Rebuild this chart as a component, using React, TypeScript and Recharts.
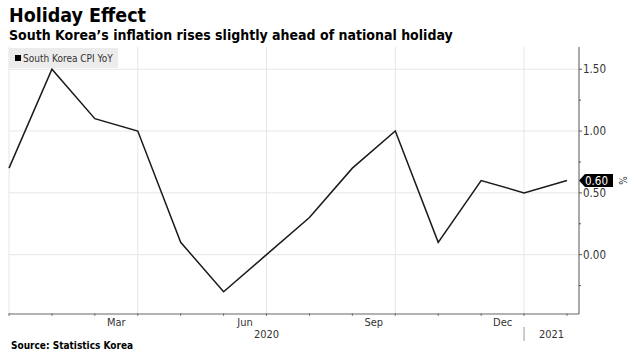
import { LineChart, Line, XAxis, YAxis, CartesianGrid, ReferenceLine } from "recharts";

// monthly CPI YoY, Dec 2019 .. Jan 2021 (points sit at month end)
const months = ["Dec", "Jan", "Feb", "Mar", "Apr", "May", "Jun", "Jul", "Aug", "Sep", "Oct", "Nov", "Dec", "Jan"];
const cpi = [0.7, 1.5, 1.1, 1.0, 0.1, -0.3, 0.0, 0.3, 0.7, 1.0, 0.1, 0.6, 0.5, 0.6];
// month name shown under the month that ends at this tick
const axisMonths = ["", "", "", "Mar", "", "", "Jun", "", "", "Sep", "", "", "Dec", ""];
const years = [
  { label: "2020", from: 0, to: 12 },
  { label: "2021", from: 12, to: 13.28 },
];
const yTicks = [-0.25, 0, 0.25, 0.5, 0.75, 1, 1.25, 1.5];

const data = months.map((m, i) => ({ i, m, v: cpi[i] }));

const W = 635;
const H = 357;
const LEFT = 9;
const RIGHT_AXIS = 56;
const X_MAX = 13.28;
const STEP = (W - RIGHT_AXIS - LEFT) / X_MAX;
const FONT = "'DejaVu Sans Condensed', 'DejaVu Sans', sans-serif";

function XTick(props: any) {
  const { x, y, payload } = props;
  const i = payload.value;
  const label = axisMonths[i];
  const year = years.find((yr) => yr.from === i);
  return (
    <g>
      <line x1={x} y1={y - 1} x2={x} y2={y + 2} stroke="#777" />
      {label && (
        <text x={x - STEP / 2} y={y + 12} textAnchor="middle" fontSize={11} fill="#333" fontFamily={FONT}>
          {label}
        </text>
      )}
      {year && (
        <text x={x + ((year.to - year.from) * STEP) / 2} y={y + 24} textAnchor="middle" fontSize={11} fill="#333" fontFamily={FONT}>
          {year.label}
        </text>
      )}
      {year && year.from > 0 && <line x1={x} y1={y + 13} x2={x} y2={y + 27} stroke="#999" />}
    </g>
  );
}

function YTick(props: any) {
  const { x, y, payload } = props;
  const v = payload.value;
  const major = Math.abs(v * 2 - Math.round(v * 2)) < 1e-6;
  return (
    <g>
      <line x1={x} y1={y} x2={x + (major ? 3 : 2)} y2={y} stroke="#555" />
      {major && (
        <text x={x + 4} y={y + 4} fontSize={11.5} fill="#333" fontFamily={FONT}>
          {v.toFixed(2)}
        </text>
      )}
    </g>
  );
}

function LastValue(props: any) {
  const { viewBox } = props;
  const x = viewBox.x + viewBox.width;
  const y = viewBox.y;
  return (
    <g>
      <path d={`M${x} ${y} L${x + 6} ${y - 6.5} L${x + 34} ${y - 6.5} L${x + 34} ${y + 6.5} L${x + 6} ${y + 6.5} Z`} fill="#000" />
      <text x={x + 6} y={y + 4} fontSize={11.5} fill="#fff" fontFamily={FONT}>
        {cpi[cpi.length - 1].toFixed(2)}
      </text>
      <text x={x + 43} y={y} fontSize={10} fill="#333" fontFamily={FONT} textAnchor="middle" transform={`rotate(90 ${x + 43} ${y})`} dy={3.5}>
        %
      </text>
    </g>
  );
}

export default function App() {
  return (
    <div style={{ position: "absolute", left: 0, top: 0, width: W, height: H, background: "#fff" }}>
      <div style={{ position: "absolute", left: 9, top: 4, fontFamily: FONT, fontWeight: "bold", fontSize: 19.5, color: "#000" }}>
        Holiday Effect
      </div>
      <div style={{ position: "absolute", left: 9, top: 27, fontFamily: FONT, fontWeight: "bold", fontSize: 14, color: "#000" }}>
        South Korea’s inflation rises slightly ahead of national holiday
      </div>
      <div style={{ position: "absolute", left: 11, top: 340, fontFamily: FONT, fontWeight: "bold", fontSize: 10, color: "#000" }}>
        Source: Statistics Korea
      </div>
      <LineChart width={W} height={H} data={data} margin={{ top: 47, right: 0, bottom: 0, left: LEFT }}>
        <CartesianGrid stroke="#e6e6e6" horizontalValues={[0, 0.5, 1, 1.5]} verticalValues={[0, 3, 6, 9, 12]} />
        <XAxis
          dataKey="i"
          type="number"
          domain={[0, X_MAX]}
          ticks={months.map((_, i) => i)}
          interval={0}
          height={43}
          tickLine={false}
          tickSize={0}
          tickMargin={0}
          axisLine={{ stroke: "#999", strokeWidth: 1.5 }}
          tick={<XTick />}
        />
        <YAxis
          orientation="right"
          type="number"
          domain={[-0.48, 1.68]}
          ticks={yTicks}
          interval={0}
          width={RIGHT_AXIS}
          tickLine={false}
          tickSize={0}
          tickMargin={0}
          axisLine={{ stroke: "#555" }}
          tick={<YTick />}
        />
        <ReferenceLine y={cpi[cpi.length - 1]} stroke="none" label={<LastValue />} />
        <Line dataKey="v" stroke="#1a1a1a" strokeWidth={1.5} dot={false} isAnimationActive={false} />
      </LineChart>
      <div style={{ position: "absolute", left: 9, top: 48, height: 20, boxSizing: "border-box", background: "#ececec", padding: "0 5px 0 6px", display: "flex", alignItems: "center", fontFamily: FONT, fontSize: 10, color: "#333" }}>
        <span style={{ width: 6, height: 6, background: "#000", display: "inline-block", marginRight: 2 }} />
        South Korea CPI YoY
      </div>
    </div>
  );
}
